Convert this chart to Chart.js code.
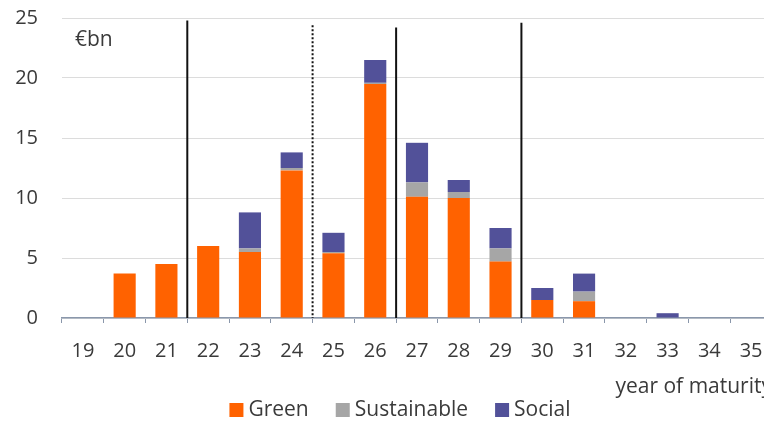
<!DOCTYPE html>
<html>
<head>
<meta charset="utf-8">
<script src="https://cdn.jsdelivr.net/npm/chart.js@4.4.1/dist/chart.umd.min.js"></script>
<style>
  html, body { margin: 0; padding: 0; background: #fff; overflow: hidden; }
  #wrap { width: 805px; height: 426px; }
</style>
</head>
<body>
<div id="wrap"><canvas id="chart"></canvas></div>
<script>
// years of maturity (20xx)
const years = ['19', '20', '21', '22', '23', '24', '25', '26', '27', '28', '29', '30', '31', '32', '33', '34', '35'];

// issuance in EUR bn per year of maturity
const green       = [0, 3.7, 4.5, 6.0, 5.5, 12.3, 5.4, 19.5, 10.1, 10.0, 4.7, 1.5, 1.4, 0, 0, 0, 0];
const sustainable = [0, 0, 0, 0, 0.3, 0.2, 0.1, 0.1, 1.2, 0.5, 1.1, 0, 0.8, 0, 0, 0, 0];
const social      = [0, 0, 0, 0, 3.0, 1.3, 1.6, 1.9, 3.3, 1.0, 1.7, 1.0, 1.5, 0, 0.4, 0, 0];

const yTicks = [0, 5, 10, 15, 20, 25];

// vertical separators placed after these years
const dividerAfter = ['21', '24', '26', '29'];
const dividerDotted = [false, true, false, false];
const dividerTop = [24.8, 24.4, 24.2, 24.6];

const textColor = '#3a3a3a';
const fontFamily = "'Open Sans', 'Noto Sans', sans-serif";

const dividers = {
    id: 'dividers',
    afterDatasetsDraw(chart) {
        const { ctx, scales: { x, y } } = chart;
        ctx.save();
        ctx.strokeStyle = '#111';
        ctx.lineWidth = 2;
        dividerAfter.forEach((yr, i) => {
            const idx = years.indexOf(yr);
            const px = (x.getPixelForValue(idx) + x.getPixelForValue(idx + 1)) / 2;
            ctx.setLineDash(dividerDotted[i] ? [2, 2] : []);
            ctx.beginPath();
            ctx.moveTo(px, y.getPixelForValue(dividerTop[i]));
            ctx.lineTo(px, y.getPixelForValue(0));
            ctx.stroke();
        });
        ctx.restore();
    }
};

// unit label + legend row under the axis title
const extras = {
    id: 'extras',
    afterDraw(chart) {
        const { ctx, chartArea } = chart;
        ctx.save();
        ctx.fillStyle = textColor;
        ctx.font = "21px " + fontFamily;
        ctx.textBaseline = 'middle';
        ctx.fillText('€bn', chartArea.left + 13, chartArea.top + 22);

        // legend, centred under the plot
        const box = 14, gap = 5, spacing = 27;
        const items = chart.data.datasets.map(ds => ({
            text: ds.label,
            color: ds.backgroundColor,
            w: ctx.measureText(ds.label).width
        }));
        const total = items.reduce((s, it) => s + box + gap + it.w, 0) + spacing * (items.length - 1);
        let x = 400 - total / 2;
        const cy = 410;
        items.forEach(it => {
            ctx.fillStyle = it.color;
            ctx.fillRect(x, cy - box / 2, box, box);
            x += box + gap;
            ctx.fillStyle = textColor;
            ctx.fillText(it.text, x, cy);
            x += it.w + spacing;
        });
        ctx.restore();
    }
};

new Chart(document.getElementById('chart'), {
    type: 'bar',
    data: {
        labels: years,
        datasets: [
            { label: 'Green', data: green, backgroundColor: '#FF6200' },
            { label: 'Sustainable', data: sustainable, backgroundColor: '#A6A6A6' },
            { label: 'Social', data: social, backgroundColor: '#525199' }
        ]
    },
    options: {
        responsive: true,
        maintainAspectRatio: false,
        animation: false,
        datasets: { bar: { barPercentage: 0.53, categoryPercentage: 1.0 } },
        layout: { padding: { top: 18, right: 33, left: 0, bottom: 26 } },
        plugins: {
            legend: { display: false },
            tooltip: { enabled: false }
        },
        scales: {
            x: {
                stacked: true,
                grid: {
                    offset: true,
                    drawOnChartArea: false,
                    drawTicks: true,
                    tickLength: 5,
                    color: '#8a97ab'
                },
                border: { display: true, color: '#8a97ab', width: 1.5 },
                ticks: { color: textColor, font: { family: fontFamily, size: 20 }, padding: 16, maxRotation: 0 },
                title: {
                    display: true,
                    text: 'year of maturity',
                    align: 'end',
                    color: textColor,
                    font: { family: fontFamily, size: 21 },
                    padding: { top: 0, bottom: 0 }
                },
                afterFit(scale) { scale.height = 82; }
            },
            y: {
                stacked: true,
                min: 0,
                max: 25,
                afterBuildTicks(scale) { scale.ticks = yTicks.map(v => ({ value: v })); },
                grid: { drawTicks: false, color: '#dcdcdc', lineWidth: 1 },
                border: { display: false },
                ticks: { color: textColor, font: { family: fontFamily, size: 20 }, padding: 24 },
                afterFit(scale) {
                    scale.width = 62;
                    // the label padding is horizontal only here
                    scale.paddingTop = 0;
                    scale.paddingBottom = 0;
                }
            }
        }
    },
    plugins: [dividers, extras]
});
</script>
</body>
</html>
